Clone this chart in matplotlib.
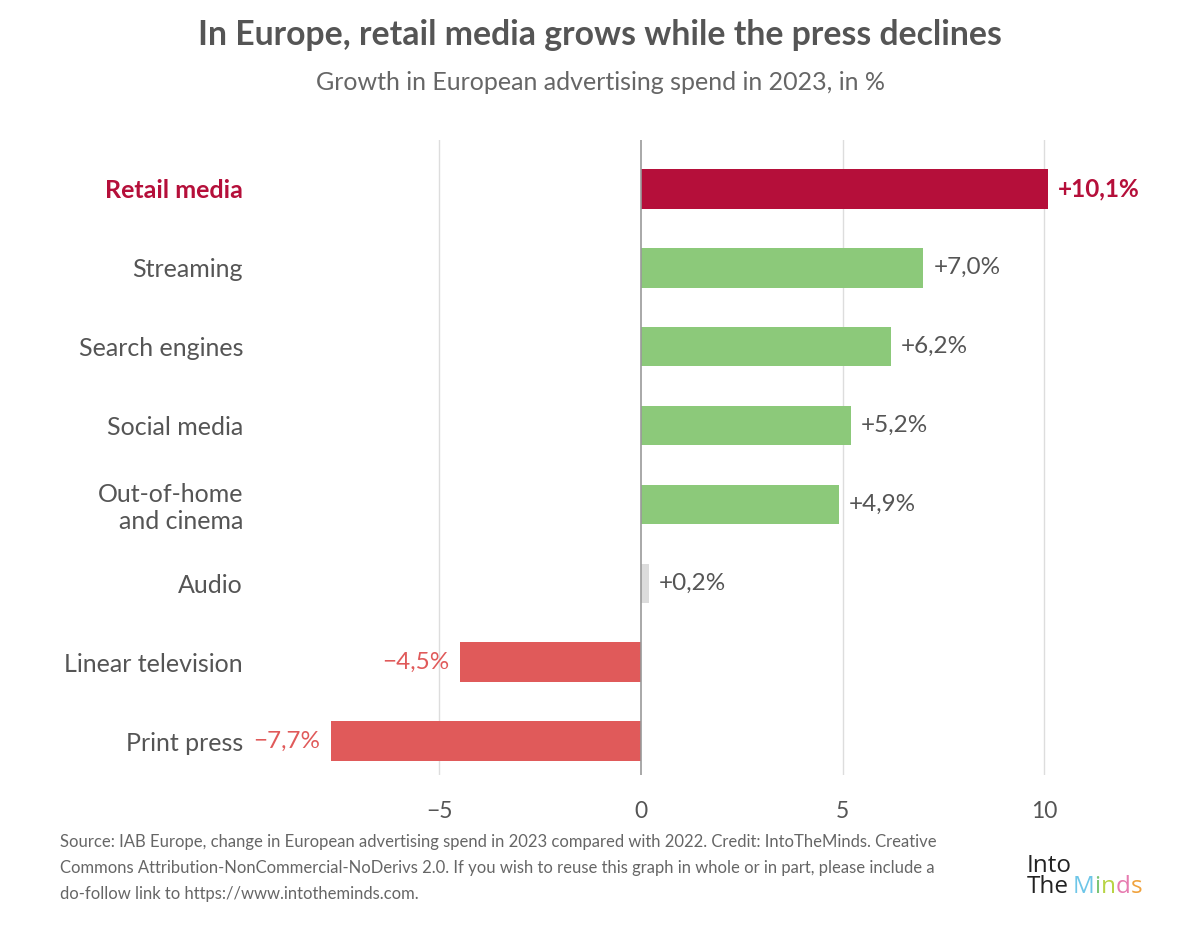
import matplotlib.pyplot as plt

categories = ["Retail media", "Streaming", "Search engines", "Social media",
              "Out-of-home\nand cinema", "Audio", "Linear television", "Print press"]
growth = [10.1, 7.0, 6.2, 5.2, 4.9, 0.2, -4.5, -7.7]
value_labels = ["+10,1%", "+7,0%", "+6,2%", "+5,2%", "+4,9%", "+0,2%", "\u22124,5%", "\u22127,7%"]
xticks = [-5, 0, 5, 10]
xtick_labels = ["\u22125", "0", "5", "10"]

CRIMSON = "#B50F3A"
GREEN = "#8CC97A"
GREY_BAR = "#DCDCDC"
RED = "#E05A5A"
TEXT = "#555555"


def bar_color(i, v):
    if i == 0:
        return CRIMSON
    if v < 0:
        return RED
    if v < 1:
        return GREY_BAR
    return GREEN


def label_color(i, v):
    if i == 0:
        return CRIMSON
    if v < 0:
        return RED
    return TEXT


plt.rcParams["font.family"] = ["Lato", "DejaVu Sans"]

W, H = 1200, 927
fig = plt.figure(figsize=(12, 9.27), dpi=100)
ax = fig.add_axes([250 / W, (H - 775) / H, 903 / W, 635 / H])

ypos = list(range(len(categories)))
colors = [bar_color(i, v) for i, v in enumerate(growth)]
ax.barh(ypos, growth, height=0.5, color=colors, zorder=3)

for i, (v, lab) in enumerate(zip(growth, value_labels)):
    off = 0.25 if v >= 0 else -0.25
    ax.text(v + off, i, lab, ha="left" if v >= 0 else "right", va="center",
            fontsize=17.5, color=label_color(i, v),
            fontweight="bold" if i == 0 else "normal", zorder=4)

ax.set_xlim(-9.7, 12.7)
ax.set_ylim(7.43, -0.62)
ax.set_xticks(xticks)
ax.set_xticklabels(xtick_labels, fontsize=16.5, color=TEXT)
ax.set_yticks(ypos)
ax.set_yticklabels(categories, fontsize=18, color=TEXT, ha="right")
ax.tick_params(axis="both", length=0)
ax.tick_params(axis="x", pad=19)
ax.tick_params(axis="y", pad=5)
ytl = ax.get_yticklabels()
ytl[0].set_color(CRIMSON)
ytl[0].set_fontweight("bold")

for x in xticks:
    if x != 0:
        ax.axvline(x, color="#DDDDDD", linewidth=1, zorder=1)
ax.axvline(0, color="#999999", linewidth=1.2, zorder=5)

for s in ax.spines.values():
    s.set_visible(False)

fig.text(0.5, 1 - 35 / H, "In Europe, retail media grows while the press declines",
         ha="center", va="center", fontsize=24.3, fontweight="bold", color=TEXT)
fig.text(0.5, 1 - 82 / H, "Growth in European advertising spend in 2023, in %",
         ha="center", va="center", fontsize=18, color="#666666")

source = ("Source: IAB Europe, change in European advertising spend in 2023 compared with 2022. Credit: IntoTheMinds. Creative\n"
          "Commons Attribution-NonCommercial-NoDerivs 2.0. If you wish to reuse this graph in whole or in part, please include a\n"
          "do-follow link to https://www.intotheminds.com.")
fig.text(60 / W, 1 - 834 / H, source, ha="left", va="top", fontsize=12,
         color="#666666", linespacing=1.75)

# logo: "Into / The" in one block, coloured "Minds" right after it
renderer = fig.canvas.get_renderer()
logo_font = ["Open Sans", "DejaVu Sans"]
logo_size = 17.5
block = fig.text(1027 / W, 1 - 893 / H, "Into\nThe", ha="left", va="baseline", fontsize=logo_size,
                 color="#222222", family=logo_font, linespacing=0.85)
x0 = block.get_window_extent(renderer).x1 + 0.5
logo_parts = [("M", "#6EC6E8"), ("i", "#7CC576"), ("n", "#B8D444"),
              ("d", "#E77BB0"), ("s", "#F0A23C")]
for t, c in logo_parts:
    txt = fig.text(x0 / W, 1 - 893 / H, t, ha="left", va="baseline", fontsize=logo_size,
                   color=c, family=logo_font)
    x0 = txt.get_window_extent(renderer).x1 + 0.2

fig.savefig("out.png", dpi=100, facecolor="white")
